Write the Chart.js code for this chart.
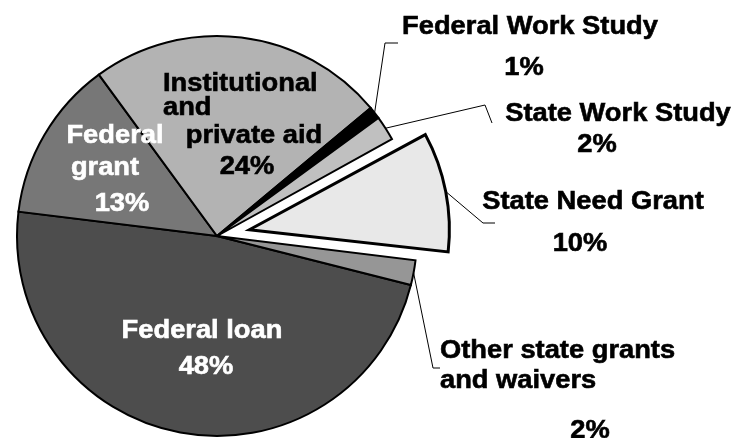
<!DOCTYPE html>
<html>
<head>
<meta charset="utf-8">
<script src="https://cdn.jsdelivr.net/npm/chart.js@4/dist/chart.umd.min.js"></script>
<style>
  html, body { margin: 0; padding: 0; background: #ffffff; }
  #wrap { width: 735px; height: 438px; position: relative; }
</style>
</head>
<body>
<div id="wrap"><canvas id="c"></canvas></div>
<script>
// ---- data ----
const categories = ['Federal loan', 'Federal grant', 'Institutional and private aid',
  'Federal Work Study', 'State Work Study', 'State Need Grant', 'Other state grants and waivers'];
const shares = [48, 13, 24, 1, 2, 10, 2];            // percent
const explodedCategory = 'State Need Grant';

// ---- styles ----
const sliceColors = ['#4d4d4d', '#777777', '#b3b3b3', '#000000', '#c0c0c0', '#e8e8e8', '#969696'];
const labelColors = ['#ffffff', '#ffffff', '#000000', '#000000', '#000000', '#000000', '#000000'];
const FONT = 'bold 26px "Liberation Sans", Arial, sans-serif';
const TEXT_SCALE_X = 1.05;

// ---- label layout (words per line, line anchors, leader elbows) ----
const labelLayout = [
  { words: [2], lines: [{x: 202, y: 338}], pct: {x: 206, y: 374} },
  { words: [1, 1], lines: [{x: 115, y: 143}, {x: 105, y: 175}], pct: {x: 122, y: 211} },
  { words: [1, 1, 2], lines: [{x: 163, y: 91, align: 'left'}, {x: 163, y: 115, align: 'left'}, {x: 254, y: 143}], pct: {x: 247, y: 174} },
  { words: [3], lines: [{x: 530, y: 34}], pct: {x: 524, y: 75} },
  { words: [3], lines: [{x: 618, y: 121}], pct: {x: 597, y: 152} },
  { words: [3], lines: [{x: 593, y: 209}], pct: {x: 580, y: 251} },
  { words: [3, 2], lines: [{x: 440, y: 358, align: 'left'}, {x: 440, y: 388, align: 'left'}], pct: {x: 590, y: 438} }
];
const leaderElbows = [null, null, null,
  [[385, 43], [398, 43]],
  [[485, 105], [492, 123]],
  [[483, 223], [495, 223]],
  [[433, 368], [440, 368]]];

function splitWords(name, counts) {
  const w = name.split(' ');
  const out = []; let k = 0;
  counts.forEach(n => { out.push(w.slice(k, k + n).join(' ')); k += n; });
  return out;
}

// keep exploded slice radius equal to the rest (Chart.js enlarges offset arcs)
const radiusFix = {
  id: 'radiusFix',
  afterDatasetsUpdate(chart) {
    chart.getDatasetMeta(0).data.forEach(el => {
      const off = (el.options.offset || 0) / 4;
      if (!off) return;
      const circ = el.endAngle - el.startAngle;
      const fix = 1 - Math.sin(Math.min(Math.PI, circ));
      el.outerRadius -= off * fix;
    });
  }
};

const labelsPlugin = {
  id: 'sliceLabels',
  afterDatasetsDraw(chart) {
    const ctx = chart.ctx;
    const meta = chart.getDatasetMeta(0);
    ctx.save();
    // leader lines
    ctx.strokeStyle = '#000'; ctx.lineWidth = 1;
    meta.data.forEach((el, i) => {
      const pts = leaderElbows[i];
      if (!pts) return;
      const off = (el.options.offset || 0) / 4;
      const circ = el.endAngle - el.startAngle;
      const fix = 1 - Math.sin(Math.min(Math.PI, circ));
      const r = el.outerRadius + off * fix + off;
      const mid = (el.startAngle + el.endAngle) / 2;
      ctx.beginPath();
      ctx.moveTo(el.x + Math.cos(mid) * r, el.y + Math.sin(mid) * r);
      pts.forEach(p => ctx.lineTo(p[0], p[1]));
      ctx.stroke();
    });
    // texts
    ctx.font = FONT; ctx.textBaseline = 'alphabetic';
    const draw = (txt, p, color) => {
      ctx.save();
      ctx.fillStyle = color; ctx.strokeStyle = color; ctx.lineWidth = 0.6;
      ctx.textAlign = p.align || 'center';
      ctx.translate(p.x, p.y); ctx.scale(TEXT_SCALE_X, 1);
      ctx.fillText(txt, 0, 0);
      ctx.strokeText(txt, 0, 0);
      ctx.restore();
    };
    categories.forEach((name, i) => {
      const L = labelLayout[i];
      splitWords(name, L.words).forEach((t, j) => draw(t, L.lines[j], labelColors[i]));
      draw(shares[i] + '%', L.pct, labelColors[i]);
    });
    ctx.restore();
  }
};

new Chart(document.getElementById('c'), {
  type: 'pie',
  data: {
    labels: categories,
    datasets: [{
      data: shares,
      backgroundColor: sliceColors,
      borderColor: '#000000',
      borderWidth: categories.map(c => c === explodedCategory ? 3 : 2),
      borderJoinStyle: 'miter',
      offset: categories.map(c => c === explodedCategory ? 132 : 0)
    }]
  },
  options: {
    responsive: true,
    maintainAspectRatio: false,
    animation: false,
    rotation: 104.2,
    radius: 200,
    layout: { padding: { left: 0, right: 301, top: 34, bottom: 0 } },
    plugins: { legend: { display: false }, tooltip: { enabled: false } },
    events: []
  },
  plugins: [radiusFix, labelsPlugin]
});
</script>
</body>
</html>
